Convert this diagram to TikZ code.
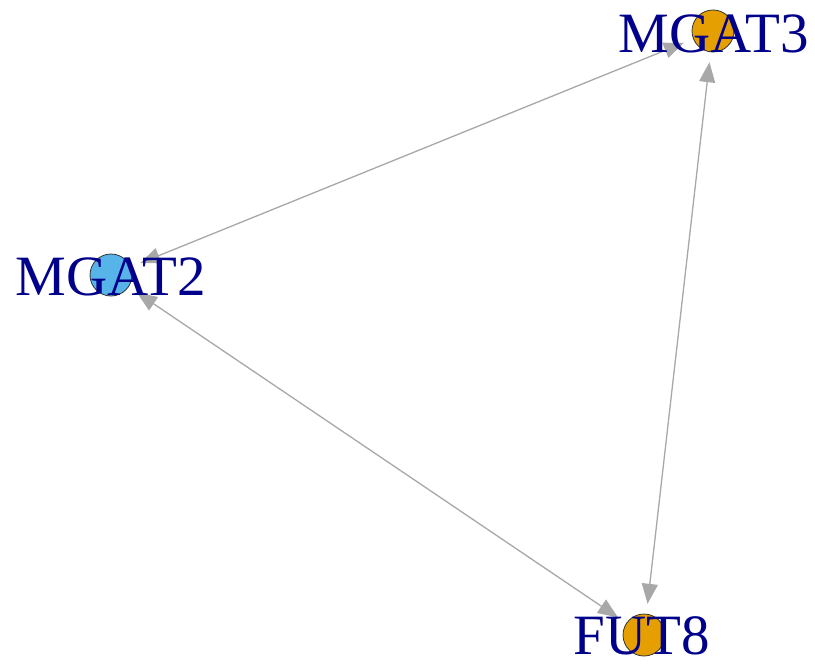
\documentclass[tikz,border=0pt]{standalone}
\usepackage{fontspec}
\setmainfont{Liberation Serif}
\usetikzlibrary{arrows.meta,backgrounds}
\definecolor{vorange}{HTML}{E69F00}
\definecolor{vblue}{HTML}{56B4E9}
\definecolor{navy}{HTML}{00008B}
\definecolor{edgegray}{HTML}{A8A8A8}

\begin{document}
\begin{tikzpicture}[x=1pt,y=-1pt,
  vertex/.style={circle,draw=black!80,line width=0.8pt,minimum size=42pt,inner sep=0pt},
  gene/.style={anchor=base,text=navy,font=\fontsize{57}{60}\selectfont,inner sep=0pt},
  edge/.style={{Triangle[length=20pt,width=16pt]}-{Triangle[length=20pt,width=16pt]},draw=edgegray,fill=edgegray,line width=1.3pt,shorten <=10pt,shorten >=10pt}]
\useasboundingbox (0,0) rectangle (815,664);
\node[vertex,fill=vblue] (mgat2) at (111,275) {};
\node[vertex,fill=vorange] (mgat3) at (713,31) {};
\node[vertex,fill=vorange] (fut8) at (644,635) {};
\begin{scope}[on background layer]
\draw[edge] (mgat2) -- (mgat3);
\draw[edge] (mgat2) -- (fut8);
\draw[edge] (mgat3) -- (fut8);
\end{scope}
\node[gene] (mgat2lab) at (111,295) {MGAT2};
\node[gene] (mgat3lab) at (714,52) {MGAT3};
\node[gene] (fut8lab) at (642,654) {FUT8};
\end{tikzpicture}
\end{document}
